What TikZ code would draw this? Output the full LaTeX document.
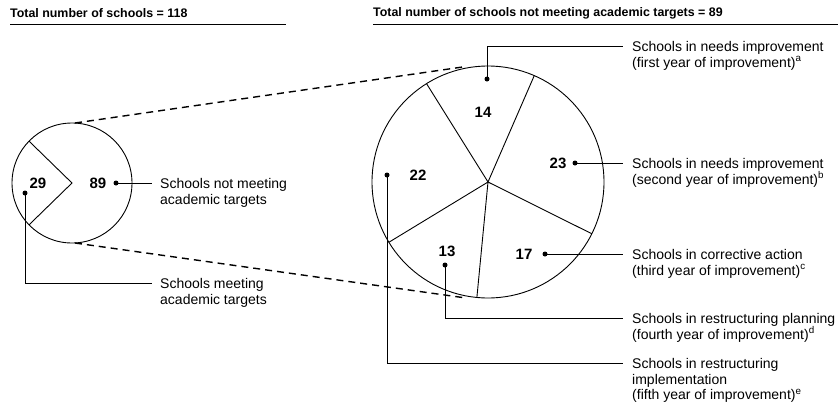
\documentclass[tikz,border=0pt]{standalone}
\usepackage{fontspec}
\setmainfont{Liberation Sans}
\begin{document}
\begin{tikzpicture}[x=1pt,y=-1pt,
  lab/.style={anchor=north west, inner sep=0pt, align=left, font=\fontsize{14}{15.8}\selectfont},
  num/.style={inner sep=0pt, font=\fontsize{15}{15}\selectfont\bfseries},
  ttl/.style={anchor=west, inner sep=0pt, font=\fontsize{12.4}{14}\selectfont\bfseries},
  thin/.style={line width=0.9pt},
  rule/.style={line width=1.1pt},
  dot/.style={circle, fill=black, inner sep=0pt, minimum size=5pt},
  dsh/.style={line width=1.4pt, dash pattern=on 7pt off 5pt}]
\useasboundingbox (0,0) rectangle (838,405);
% titles
\node[ttl] (t1) at (10,13) {Total number of schools = 118};
\node[ttl] (t2) at (373,13) {Total number of schools not meeting academic targets = 89};
\coordinate (u1a) at (10,24.5); \coordinate (u1b) at (286,24.5);
\coordinate (u2a) at (373,24.5); \coordinate (u2b) at (838,24.5);
\draw[rule] (u1a) -- (u1b);
\draw[rule] (u2a) -- (u2b);
% left pie
\coordinate (L) at (72,183);
\draw[thin] (L) circle[radius=60pt];
\path (L) ++(135.75:60pt) coordinate (w1);
\path (L) ++(224.25:60pt) coordinate (w2);
\draw[thin] (w1) -- (L) -- (w2);
\node[num] (n29) at (38,183) {29};
\node[num] (n89) at (98,183) {89};
% right pie
\coordinate (R) at (488,182);
\draw[thin] (R) circle[radius=116pt];
\foreach \a [count=\i] in {-26.5,66.5,122,211.3,264.5}{
  \path (R) ++(\a:116pt) coordinate (s\i);
  \draw[thin] (R) -- (s\i);
}
\node[num] (n14) at (483,112) {14};
\node[num] (n23) at (558,163) {23};
\node[num] (n22) at (418,175) {22};
\node[num] (n13) at (447,251) {13};
\node[num] (n17) at (524,254) {17};
% dashed connectors
\coordinate (dt1) at (75,123); \coordinate (dt2) at (466,66.5);
\coordinate (db1) at (75,243); \coordinate (db2) at (466,298);
\draw[dsh] (dt1) -- (dt2);
\draw[dsh] (db1) -- (db2);
% left labels
\node[dot] (d89) at (116,183) {};
\coordinate (e89) at (152,183);
\draw[thin] (d89.center) -- (e89);
\node[lab] (l89) at (160,178) {Schools not meeting\\academic targets};
\node[dot] (d29) at (25,193) {};
\coordinate (c29) at (25,283); \coordinate (e29) at (152,283);
\draw[thin] (d29.center) -- (c29) -- (e29);
\node[lab] (l29) at (160,278) {Schools meeting\\academic targets};
% right labels
\node[dot] (d14) at (487,79) {};
\coordinate (c14) at (487,46); \coordinate (e14) at (623,46);
\draw[thin] (d14.center) -- (c14) -- (e14);
\node[lab] (l14) at (632,41) {Schools in needs improvement\\(first year of improvement)\textsuperscript{a}};
\node[dot] (d23) at (575,163) {};
\coordinate (e23) at (623,163);
\draw[thin] (d23.center) -- (e23);
\node[lab] (l23) at (632,158) {Schools in needs improvement\\(second year of improvement)\textsuperscript{b}};
\node[dot] (d17) at (545,254) {};
\coordinate (e17) at (623,254);
\draw[thin] (d17.center) -- (e17);
\node[lab] (l17) at (632,249) {Schools in corrective action\\(third year of improvement)\textsuperscript{c}};
\node[dot] (d13) at (445,265) {};
\coordinate (c13) at (445,318); \coordinate (e13) at (623,318);
\draw[thin] (d13.center) -- (c13) -- (e13);
\node[lab] (l13) at (632,313) {Schools in restructuring planning\\(fourth year of improvement)\textsuperscript{d}};
\node[dot] (d22) at (387,175) {};
\coordinate (c22) at (387,363); \coordinate (e22) at (623,363);
\draw[thin] (d22.center) -- (c22) -- (e22);
\node[lab] (l22) at (632,358) {Schools in restructuring\\implementation\\(fifth year of improvement)\textsuperscript{e}};
\end{tikzpicture}
\end{document}
